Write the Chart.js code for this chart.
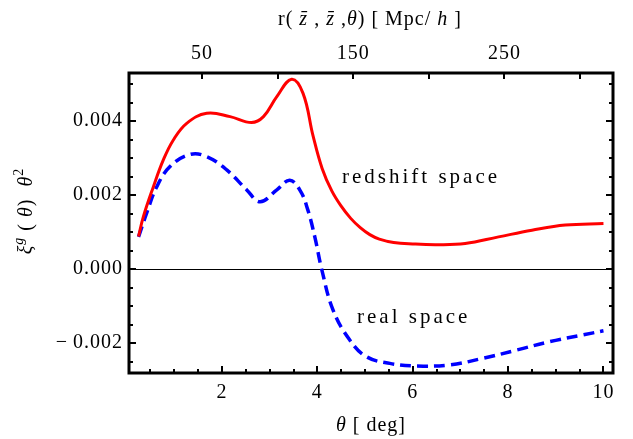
<!DOCTYPE html>
<html>
<head>
<meta charset="utf-8">
<script src="https://cdn.jsdelivr.net/npm/chart.js@4.4.0/dist/chart.umd.min.js"></script>
<style>
  html, body { margin: 0; padding: 0; background: #fff; }
</style>
</head>
<body>
<canvas id="chart" width="633" height="439"></canvas>
<script>
// values
const thetaRed = [0.25, 0.35, 0.56, 0.77, 0.98, 1.26, 1.68, 2.17, 2.62, 2.87, 3.15, 3.46, 3.70, 3.91, 4.10, 4.30, 4.50, 4.70, 4.90, 5.10, 5.30, 5.60, 6.00, 6.50, 7.10, 7.80, 8.50, 9.20, 10.0];
const redshiftValues = [0.00088, 0.00141, 0.00222, 0.00295, 0.00349, 0.00394, 0.00421, 0.00412, 0.00396, 0.00412, 0.00466, 0.00513, 0.00475, 0.00360, 0.00272, 0.00212, 0.00170, 0.00137, 0.00112, 0.00093, 0.00081, 0.00072, 0.00068, 0.00066, 0.00069, 0.00087, 0.00105, 0.00119, 0.00123];

const thetaBlue = [0.25, 0.42, 0.63, 0.91, 1.33, 1.68, 2.10, 2.52, 2.80, 3.15, 3.42, 3.64, 3.80, 3.95, 4.09, 4.33, 4.68, 5.03, 5.52, 6.08, 6.78, 7.48, 8.18, 8.88, 9.57, 10.0];
const realValues = [0.00087, 0.00151, 0.00222, 0.00277, 0.00310, 0.00304, 0.00268, 0.00214, 0.00182, 0.00214, 0.00240, 0.00212, 0.00160, 0.00085, 0.00000, -0.00111, -0.00192, -0.00237, -0.00255, -0.00262, -0.00259, -0.00241, -0.00219, -0.00196, -0.00178, -0.00167];

const yTickLabels = [-0.002, 0, 0.002, 0.004];
const thetaTickLabels = [2, 4, 6, 8, 10];
const rTickLabels = [50, 150, 250];

const serif = "'Liberation Serif', 'DejaVu Serif', serif";

function isIn(list, v) {
    return list.some(t => Math.abs(t - v) < 1e-9);
}

function fmtY(v) {
    if (Math.abs(v) < 1e-12) return '0.000';
    return v < 0 ? '\u2212\u2009' + Math.abs(v).toFixed(3) : v.toFixed(3);
}

// inward ticks and heavy frame, like the original plot
const framePlugin = {
    id: 'frame',
    beforeDraw(chart) {
        chart.ctx.letterSpacing = '1px';
    },
    afterDatasetsDraw(chart) {
        const ctx = chart.ctx;
        const a = chart.chartArea;
        const ys = chart.scales.y, xs = chart.scales.x, x2 = chart.scales.x2;
        ctx.save();
        ctx.strokeStyle = '#000';
        ctx.lineWidth = 2;
        ctx.beginPath();
        ys.ticks.forEach(t => {
            const v = t.value;
            const major = Math.abs(v / 0.002 - Math.round(v / 0.002)) < 1e-6;
            const len = major ? 7 : 4;
            const p = Math.round(ys.getPixelForValue(v));
            ctx.moveTo(a.left, p); ctx.lineTo(a.left + len, p);
            ctx.moveTo(a.right, p); ctx.lineTo(a.right - len, p);
        });
        xs.ticks.forEach(t => {
            const v = t.value;
            const major = Math.abs(v / 2 - Math.round(v / 2)) < 1e-6;
            const len = major ? 7 : 4;
            const p = Math.round(xs.getPixelForValue(v));
            ctx.moveTo(p, a.bottom); ctx.lineTo(p, a.bottom - len);
        });
        x2.ticks.forEach(t => {
            const p = Math.round(x2.getPixelForValue(t.value));
            ctx.moveTo(p, a.top); ctx.lineTo(p, a.top + 6);
        });
        ctx.stroke();
        ctx.lineWidth = 3;
        ctx.strokeRect(a.left, a.top, a.right - a.left, a.bottom - a.top);
        ctx.restore();
    },
    afterDraw(chart) {
        const ctx = chart.ctx;
        ctx.save();
        ctx.fillStyle = '#000';
        ctx.letterSpacing = '1px';

        const size = 20;
        const fontFor = s => (s.indexOf('i') >= 0 ? 'italic ' : '') + (s.indexOf('s') >= 0 ? 14 : size) + 'px ' + serif;
        function width(parts) {
            let w = 0;
            parts.forEach(([t, s]) => { ctx.font = fontFor(s); w += ctx.measureText(t).width; });
            return w;
        }
        function draw(parts, x, y) {
            let cx = x - width(parts) / 2;
            parts.forEach(([t, s]) => {
                ctx.font = fontFor(s);
                const w = ctx.measureText(t).width;
                const dy = s.indexOf('s') >= 0 ? -9 : 0;
                ctx.fillText(t, cx, y + dy);
                if (s.indexOf('b') >= 0) {
                    ctx.fillRect(cx + 2, y - 14, w - 3, 1.2);
                }
                cx += w;
            });
        }
        ctx.textBaseline = 'alphabetic';
        ctx.textAlign = 'left';

        draw([['r( ', ''], ['z', 'ib'], [' , ', ''], ['z', 'ib'], [' ,', ''], ['\u03b8', 'i'], [') [ Mpc/ ', ''], ['h', 'i'], [' ]', '']], 370, 25);
        draw([['\u03b8', 'i'], [' [ deg]', '']], 371, 431);

        ctx.save();
        ctx.translate(32, 211);
        ctx.rotate(-Math.PI / 2);
        draw([['\u03be', 'i'], ['g', 'is'], [' ( ', ''], ['\u03b8', 'i'], [')  ', ''], ['\u03b8', 'i'], ['2', 's']], 0, 0);
        ctx.restore();

        ctx.font = '21px ' + serif;
        ctx.letterSpacing = '3px';
        ctx.fillText('redshift space', 342, 183);
        ctx.fillText('real space', 357, 323);
        ctx.restore();
    }
};

const tickFont = { family: serif, size: 20 };

new Chart(document.getElementById('chart').getContext('2d'), {
    type: 'line',
    data: {
        datasets: [
            {
                label: 'redshift space',
                data: thetaRed.map((t, i) => ({ x: t, y: redshiftValues[i] })),
                borderColor: '#ff0000',
                borderWidth: 3,
                pointRadius: 0,
                tension: 0.4,
                fill: false
            },
            {
                label: 'real space',
                data: thetaBlue.map((t, i) => ({ x: t, y: realValues[i] })),
                borderColor: '#0000ff',
                borderWidth: 3.5,
                borderDash: [11, 6],
                pointRadius: 0,
                tension: 0.4,
                fill: false
            }
        ]
    },
    plugins: [framePlugin],
    options: {
        responsive: false,
        animation: false,
        devicePixelRatio: 1,
        layout: { padding: { left: 0, right: 20, top: 0, bottom: 0 } },
        plugins: {
            legend: { display: false },
            tooltip: { enabled: false }
        },
        scales: {
            x: {
                type: 'linear',
                position: 'bottom',
                min: 0.05,
                max: 10.2,
                afterFit: s => { s.height = 66; },
                border: { display: false },
                grid: { display: false, drawTicks: false },
                ticks: {
                    stepSize: 0.5,
                    includeBounds: false,
                    autoSkip: false,
                    maxRotation: 0,
                    padding: 8,
                    color: '#000',
                    font: tickFont,
                    callback: v => isIn(thetaTickLabels, v) ? String(v) : ''
                }
            },
            x2: {
                type: 'linear',
                position: 'top',
                min: 1.72,
                max: 321.8,
                afterFit: s => { s.height = 73; },
                border: { display: false },
                grid: { display: false, drawTicks: false },
                ticks: {
                    stepSize: 50,
                    includeBounds: false,
                    autoSkip: false,
                    maxRotation: 0,
                    padding: 7,
                    color: '#000',
                    font: tickFont,
                    callback: v => isIn(rTickLabels, v) ? String(v) : ''
                }
            },
            y: {
                type: 'linear',
                position: 'left',
                min: -0.00281,
                max: 0.0053,
                afterFit: s => { s.width = 129; },
                border: { display: false },
                grid: {
                    drawTicks: false,
                    color: c => (c.tick && Math.abs(c.tick.value) < 1e-12) ? '#000' : 'rgba(0,0,0,0)',
                    lineWidth: 1
                },
                ticks: {
                    stepSize: 0.0005,
                    includeBounds: false,
                    autoSkip: false,
                    padding: 6,
                    color: '#000',
                    font: tickFont,
                    callback: v => isIn(yTickLabels, v) ? fmtY(v) : ''
                }
            }
        }
    }
});
</script>
</body>
</html>
